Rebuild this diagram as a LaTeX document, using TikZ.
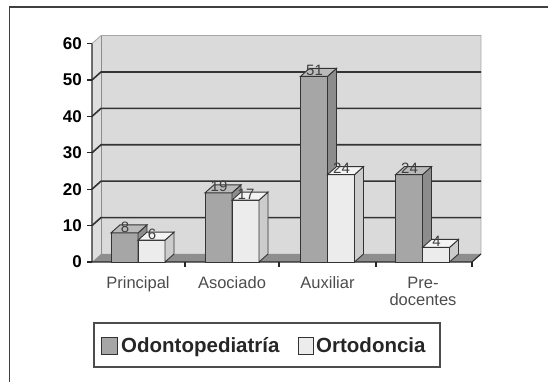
\documentclass[tikz,border=0pt]{standalone}
\usepackage{fontspec}
\setmainfont{Liberation Sans}
\usepackage{xcolor}
\usepackage{tikz}

\definecolor{wallgray}{HTML}{DADADA}
\definecolor{floorgray}{HTML}{8E8E8E}
\definecolor{odogray}{HTML}{A6A6A6}
\definecolor{odoside}{HTML}{8C8C8C}
\definecolor{odotop}{HTML}{BABABA}
\definecolor{ortogray}{HTML}{ECECEC}
\definecolor{ortoside}{HTML}{CCCCCC}
\definecolor{ortotop}{HTML}{F4F4F4}

\tikzset{
  gridline/.style={black!80, line width=1.6pt},
  axisline/.style={black!85, line width=1.1pt},
  odofront/.style={fill=odogray, draw=black!80, line width=0.9pt},
  odosidef/.style={fill=odoside, draw=black!80, line width=0.9pt},
  odotopf/.style={fill=odotop, draw=black!80, line width=0.9pt},
  ortofront/.style={fill=ortogray, draw=black!80, line width=0.9pt},
  ortosidef/.style={fill=ortoside, draw=black!80, line width=0.9pt},
  ortotopf/.style={fill=ortotop, draw=black!80, line width=0.9pt},
  ticklbl/.style={font=\fontsize{17}{19}\selectfont\bfseries, inner sep=0pt},
  vallbl/.style={font=\fontsize{15}{17}\selectfont, text=black!75, inner sep=0pt},
  catlbl/.style={font=\fontsize{16.5}{18.5}\selectfont, text=black!70, inner sep=0pt, align=center},
  leglbl/.style={font=\fontsize{20.5}{22}\selectfont\bfseries, text=black!85, inner sep=0pt}
}

% one 3D column: left x, value, colour prefix, node name
\newcommand{\drawcolumn}[4]{%
  \pgfmathsetmacro{\colh}{120+3.64*#2}
  \filldraw[#3front] (#1,120) rectangle (#1+27,\colh);
  \filldraw[#3sidef] (#1+27,120) -- (#1+36,128) -- (#1+36,\colh+8) -- (#1+27,\colh) -- cycle;
  \filldraw[#3topf] (#1,\colh) -- (#1+27,\colh) -- (#1+36,\colh+8) -- (#1+9,\colh+8) -- cycle;
  \node[vallbl, anchor=south] (#4) at (#1+14,\colh+0.5) {#2};
}

\begin{document}
\begin{tikzpicture}[x=1pt,y=1pt]
  \useasboundingbox (0,0) rectangle (548,382);
  \draw[black!75, line width=1.2pt] (9.5,0) -- (9.5,375) -- (548,375);

  % walls and floor
  \fill[wallgray] (101,128) rectangle (481,346.4);
  \fill[wallgray!90] (92,120) -- (101,128) -- (101,346.4) -- (92,338.4) -- cycle;
  \fill[floorgray] (92,120) -- (472,120) -- (481,128) -- (101,128) -- cycle;
  \draw[black!35, line width=0.8pt] (92,338.4) -- (101,346.4) -- (481,346.4) -- (481,128);
  \draw[black!45, line width=0.8pt] (101,128) -- (101,346.4);
  \foreach \k in {1,...,5}
    \draw[gridline] (92,120+36.4*\k) -- (101,128+36.4*\k) -- (481,128+36.4*\k);

  % axes
  \draw[axisline] (92,338.4) -- (92,120) -- (472,120) -- (481,128);
  \foreach \v in {0,10,...,60} {
    \draw[axisline] (87,120+3.64*\v) -- (92,120+3.64*\v);
    \node[ticklbl, anchor=east] (y\v) at (82,120+3.64*\v) {\v};
  }
  \foreach \t in {185,279,376,472}
    \draw[axisline] (\t,120) -- (\t,115);

  % columns
  \foreach \cx/\a/\b/\i in {138/8/6/1, 232/19/17/2, 327.5/51/24/3, 422.5/24/4/4} {
    \drawcolumn{\cx-27}{\a}{odo}{odo\i}
    \drawcolumn{\cx}{\b}{orto}{orto\i}
  }

  % categories
  \foreach \cx/\txt/\i in {138/Principal/1, 232/Asociado/2, 327.5/Auxiliar/3, 423/{Pre-\\[-1pt]docentes}/4}
    \node[catlbl, anchor=north] (cat\i) at (\cx,105.5) {\txt};

  % legend
  \draw[black!70, line width=1.6pt] (94,15) rectangle (440,59);
  \filldraw[fill=odogray, draw=black!80, line width=1pt] (101,27) rectangle (117,44);
  \node[leglbl, anchor=base west] (legodo) at (121,29) {Odontopediatría};
  \filldraw[fill=ortogray, draw=black!80, line width=1pt] (298,27) rectangle (313,44);
  \node[leglbl, anchor=base west] (legorto) at (316,29) {Ortodoncia};
\end{tikzpicture}
\end{document}
